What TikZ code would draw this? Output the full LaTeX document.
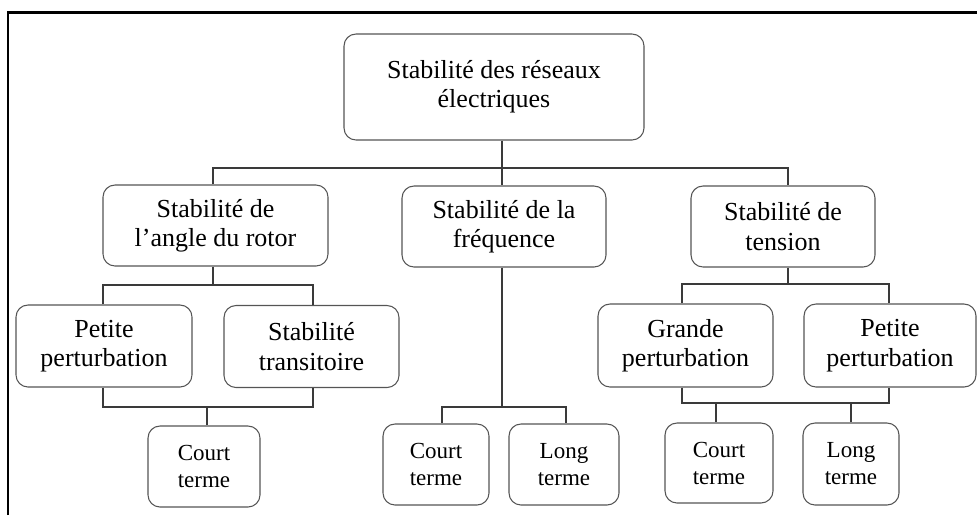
\documentclass[tikz,border=0pt]{standalone}
\usepackage{fontspec}
\setmainfont{Liberation Serif}
\definecolor{boxline}{HTML}{555555}
\definecolor{connline}{HTML}{3A3A3A}
\tikzset{
  nbox/.style 2 args={draw=boxline, line width=0.8pt, rounded corners=9pt,
    rectangle, inner sep=0pt, align=center, minimum width=#1, minimum height=#2,
    font=\fontsize{19.5pt}{22pt}\selectfont, text=black},
  sbox/.style 2 args={nbox={#1}{#2}, font=\fontsize{17.25pt}{20.25pt}\selectfont},
  conn/.style={draw=connline, line width=0.8pt},
}
\begin{document}
\begin{tikzpicture}[x=0.75pt, y=-0.75pt]
\useasboundingbox (0,0) rectangle (977,515);
% frame
\coordinate (f1) at (8,515);
\coordinate (f2) at (8,12.5);
\coordinate (f3) at (977,12.5);
\draw[line width=1.6pt, black] (f1) -- (f2) -- (f3);

% nodes
\node[nbox={225pt}{79.5pt}] (root) at (494,87) {Stabilité des réseaux\\électriques};
\node[nbox={168.75pt}{60.75pt}] (A) at (215.5,225.5) {Stabilité de\\l’angle du rotor};
\node[nbox={153pt}{60.75pt}] (F) at (504,226.5) {Stabilité de la\\fréquence};
\node[nbox={138pt}{60.75pt}] (T) at (783,226.5) {Stabilité de\\tension};

\node[nbox={132pt}{61.5pt}] (P1) at (104,346) {Petite\\perturbation};
\node[nbox={131.25pt}{61.5pt}] (S1) at (311.5,346.5) {Stabilité\\transitoire};
\node[nbox={131.25pt}{62.25pt}] (G) at (685.5,345.5) {Grande\\perturbation};
\node[nbox={129pt}{62.25pt}] (P3) at (890,345.5) {Petite\\perturbation};

\node[sbox={84pt}{60.75pt}] (C1) at (204,466.5) {Court\\terme};
\node[sbox={79.5pt}{60.75pt}] (C2) at (436,464.5) {Court\\terme};
\node[sbox={82.5pt}{60.75pt}] (L2) at (564,464.5) {Long\\terme};
\node[sbox={81pt}{60pt}] (C3) at (719,463) {Court\\terme};
\node[sbox={72pt}{61.5pt}] (L3) at (851,464) {Long\\terme};

% junction coordinates
\coordinate (j0) at (502,168);
\coordinate (ja) at (213,168);
\coordinate (jt) at (788,168);
\coordinate (ka) at (213,285);
\coordinate (kp) at (103,285);
\coordinate (ks) at (313,285);
\coordinate (ma) at (207,407);
\coordinate (mp) at (103,407);
\coordinate (ms) at (313,407);
\coordinate (kf) at (502,407);
\coordinate (kc2) at (442,407);
\coordinate (kl2) at (566,407);
\coordinate (kt) at (788,284);
\coordinate (kg) at (682,284);
\coordinate (kq) at (889,284);
\coordinate (mg) at (682,403);
\coordinate (mq) at (889,403);
\coordinate (mc3) at (716,403);
\coordinate (ml3) at (851,403);

% connectors
\draw[conn] (root.south -| j0) -- (F.north -| j0);
\draw[conn] (A.north -| ja) -- (ja) -- (jt) -- (T.north -| jt);

\draw[conn] (A.south -| ka) -- (ka);
\draw[conn] (P1.north -| kp) -- (kp) -- (ks) -- (S1.north -| ks);
\draw[conn] (P1.south -| mp) -- (mp) -- (ms) -- (S1.south -| ms);
\draw[conn] (ma) -- (C1.north -| ma);

\draw[conn] (F.south -| kf) -- (kf);
\draw[conn] (C2.north -| kc2) -- (kc2) -- (kl2) -- (L2.north -| kl2);

\draw[conn] (T.south -| kt) -- (kt);
\draw[conn] (G.north -| kg) -- (kg) -- (kq) -- (P3.north -| kq);
\draw[conn] (G.south -| mg) -- (mg) -- (mq) -- (P3.south -| mq);
\draw[conn] (mc3) -- (C3.north -| mc3);
\draw[conn] (ml3) -- (L3.north -| ml3);
\end{tikzpicture}
\end{document}
